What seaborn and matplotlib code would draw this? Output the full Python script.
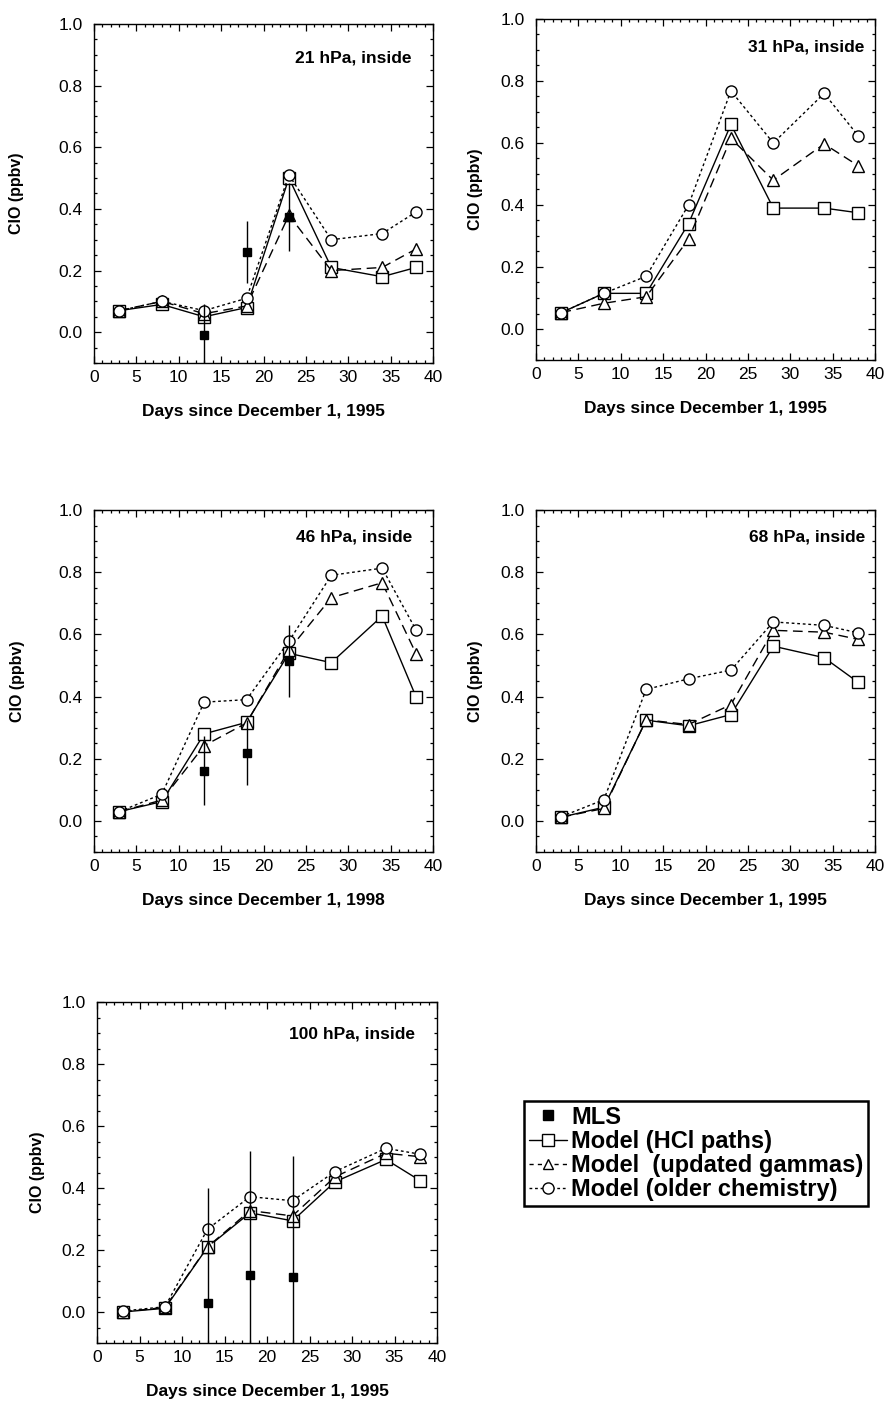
import matplotlib
matplotlib.use('Agg')
import seaborn as sns
from matplotlib import pyplot as plt
from matplotlib.ticker import MultipleLocator, FormatStrFormatter
from matplotlib.lines import Line2D

'### Data read off the figure ###'
days = [3, 8, 13, 18, 23, 28, 34, 38]
mls_days = [13, 18, 23]

# 21 hPa
hcl_21 = [0.07, 0.09, 0.05, 0.08, 0.50, 0.21, 0.18, 0.21]
gam_21 = [0.07, 0.10, 0.06, 0.085, 0.38, 0.20, 0.21, 0.27]
old_21 = [0.07, 0.10, 0.07, 0.11, 0.51, 0.30, 0.32, 0.39]
mls_21 = [-0.01, 0.26, 0.375]
mls_err_21 = [0.10, 0.10, 0.11]

# 31 hPa
hcl_31 = [0.053, 0.115, 0.115, 0.34, 0.66, 0.39, 0.39, 0.375]
gam_31 = [0.053, 0.083, 0.104, 0.29, 0.615, 0.48, 0.597, 0.527]
old_31 = [0.053, 0.115, 0.17, 0.40, 0.768, 0.60, 0.76, 0.624]

# 46 hPa
hcl_46 = [0.03, 0.062, 0.28, 0.317, 0.539, 0.509, 0.659, 0.399]
gam_46 = [0.03, 0.067, 0.242, 0.315, 0.55, 0.718, 0.766, 0.538]
old_46 = [0.03, 0.086, 0.382, 0.39, 0.578, 0.79, 0.813, 0.614]
mls_46 = [0.162, 0.22, 0.514]
mls_err_46 = [0.11, 0.105, 0.115]

# 68 hPa
hcl_68 = [0.012, 0.044, 0.324, 0.306, 0.342, 0.562, 0.525, 0.446]
gam_68 = [0.012, 0.04, 0.325, 0.31, 0.374, 0.613, 0.607, 0.584]
old_68 = [0.014, 0.068, 0.423, 0.457, 0.485, 0.64, 0.629, 0.605]

# 100 hPa
hcl_100 = [0.0, 0.012, 0.209, 0.32, 0.294, 0.42, 0.492, 0.424]
gam_100 = [0.0, 0.015, 0.21, 0.327, 0.31, 0.436, 0.512, 0.501]
old_100 = [0.003, 0.017, 0.267, 0.372, 0.359, 0.453, 0.528, 0.509]
mls_100 = [0.03, 0.119, 0.112]
mls_err_100 = [0.37, 0.40, 0.39]

titles = ['21 hPa, inside', '31 hPa, inside', '46 hPa, inside', '68 hPa, inside', '100 hPa, inside']
xlabels = ['Days since December 1, 1995', 'Days since December 1, 1995', 'Days since December 1, 1998',
           'Days since December 1, 1995', 'Days since December 1, 1995']
legend_labels = ['MLS', 'Model (HCl paths)', 'Model  (updated gammas)', 'Model (older chemistry)']

series = [
    (hcl_21, gam_21, old_21, mls_21, mls_err_21),
    (hcl_31, gam_31, old_31, None, None),
    (hcl_46, gam_46, old_46, mls_46, mls_err_46),
    (hcl_68, gam_68, old_68, None, None),
    (hcl_100, gam_100, old_100, mls_100, mls_err_100),
]

'### Figure layout (pixels of an 888x1401 canvas) ###'
W, H = 888, 1401
# left, top, right, bottom in pixels
boxes = [(94, 24, 433, 363), (536, 19, 875, 360), (94, 510, 433, 852),
         (536, 510, 875, 852), (97, 1002, 437, 1343)]
ylab_px = [24, 483, 25, 483, 45]
title_pos = [(0.938, 0.90), (0.97, 0.918), (0.94, 0.92), (0.97, 0.92), (0.935, 0.906)]

sns.set_style('ticks')
plt.rcParams['font.family'] = ['Liberation Sans', 'DejaVu Sans']
plt.rcParams['text.color'] = 'black'
plt.rcParams['axes.labelcolor'] = 'black'

fig = plt.figure(figsize=(W / 100, H / 100), dpi=100)

solid = '-'
dashed = (0, (7, 4))
dotted = (0, (2, 2))
mk = dict(color='black', markerfacecolor='white', markeredgecolor='black',
          markeredgewidth=1.0, markersize=8, linewidth=1.0)

for i, (hcl, gam, old, mls, mls_err) in enumerate(series):
    l, t, r, b = boxes[i]
    ax = fig.add_axes([l / W, 1 - b / H, (r - l) / W, (b - t) / H])

    sns.lineplot(x=days, y=hcl, ax=ax, linestyle=solid, marker='s', **mk)
    sns.lineplot(x=days, y=gam, ax=ax, linestyle=dashed, marker='^', **mk)
    sns.lineplot(x=days, y=old, ax=ax, linestyle=dotted, marker='o', **mk)
    if mls is not None:
        ax.errorbar(mls_days, mls, yerr=mls_err, fmt='s', color='black', ms=6,
                    elinewidth=1.0, capsize=0, zorder=5)

    ax.set_xlim(0, 40)
    ax.set_ylim(-0.1, 1.0)
    ax.xaxis.set_major_locator(MultipleLocator(5))
    ax.xaxis.set_minor_locator(MultipleLocator(1))
    ax.yaxis.set_major_locator(MultipleLocator(0.2))
    ax.yaxis.set_minor_locator(MultipleLocator(0.05))
    ax.yaxis.set_major_formatter(FormatStrFormatter('%.1f'))
    ax.tick_params(which='both', direction='in', top=True, right=True, colors='black',
                   labelcolor='black', labelsize=12.5, width=0.9)
    ax.tick_params(which='major', length=5)
    ax.tick_params(which='minor', length=2.5)
    ax.tick_params(axis='y', pad=8)
    ax.tick_params(axis='x', pad=5)
    for sp in ax.spines.values():
        sp.set_visible(True)
        sp.set_color('black')
        sp.set_linewidth(1.0)

    ax.set_xlabel(xlabels[i], fontsize=12.5, fontweight='bold', labelpad=14)
    ax.set_ylabel('ClO (ppbv)', fontsize=11.5, fontweight='bold')
    ax.yaxis.set_label_coords((ylab_px[i] - l) / (r - l), 0.5)
    ax.text(title_pos[i][0], title_pos[i][1], titles[i], transform=ax.transAxes,
            ha='right', va='center', fontsize=12.5, fontweight='bold')

# legend in the empty lower-right slot
handles = [
    Line2D([], [], linestyle='none', marker='s', color='black', markersize=7),
    Line2D([], [], linestyle=solid, marker='s', **{**mk, 'markersize': 8}),
    Line2D([], [], linestyle=(0, (3, 3)), marker='^', **{**mk, 'markersize': 7}),
    Line2D([], [], linestyle=(0, (2, 2)), marker='o', **{**mk, 'markersize': 8}),
]
leg = fig.legend(handles, legend_labels, loc='upper left', bbox_to_anchor=(524 / W, 1 - 1101 / H),
                 frameon=True, fancybox=False, edgecolor='black', framealpha=1,
                 prop={'weight': 'bold', 'size': 17}, handlelength=1.6, handletextpad=0.2,
                 labelspacing=0.05, borderpad=0.2, borderaxespad=0)
leg.get_frame().set_linewidth(1.8)

fig.savefig('out.png', dpi=100)
